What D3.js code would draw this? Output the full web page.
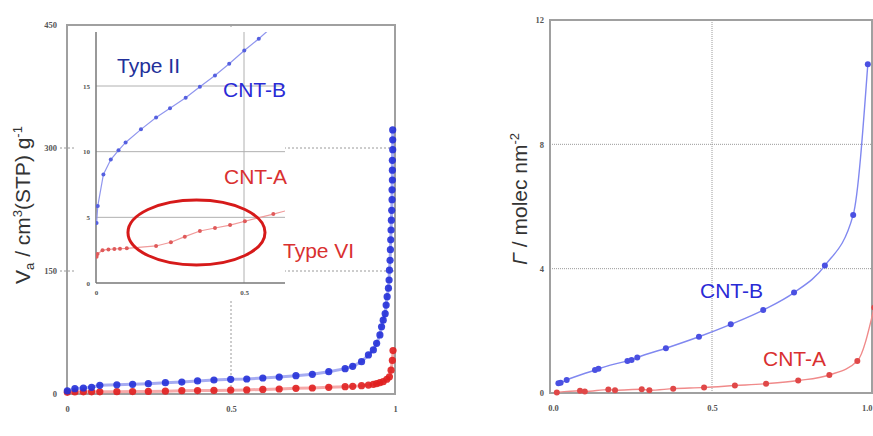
<!DOCTYPE html>
<html>
<head>
<meta charset="utf-8">
<script src="https://cdn.jsdelivr.net/npm/d3@7/dist/d3.min.js"></script>
<style>
  html, body { margin: 0; padding: 0; background: #fff; }
  svg { display: block; }
</style>
</head>
<body>
<svg id="chart" width="873" height="436"></svg>
<script>
// ---- data ----
// left panel, full isotherm (x = P/P0, y = Va)
const mainB = [[0.001,3.7],[0.024,6.5],[0.05,7.3],[0.075,8.2],[0.10,10.6],[0.152,11.3],[0.20,11.8],[0.248,12.6],
  [0.30,13.8],[0.35,14.6],[0.398,15.9],[0.448,17.1],[0.499,17.9],[0.548,18.3],[0.597,19.5],[0.647,20.7],
  [0.698,22.3],[0.748,24],[0.798,27.2],[0.848,30.9],[0.871,33.8],[0.898,39.4],[0.919,47.6],[0.934,53.7],
  [0.944,61.8],[0.954,72],[0.959,82],[0.964,90],[0.970,98],[0.973,108.5],[0.976,118.7],[0.980,129],
  [0.982,139],[0.983,151],[0.985,163],[0.986,176],[0.987,188],[0.988,200],[0.989,212],[0.990,224],
  [0.991,237],[0.991,249],[0.992,261],[0.992,273],[0.992,285],[0.993,298],[0.993,310],[0.993,322]];
const mainA = [[0.001,2.0],[0.024,2.5],[0.05,2.6],[0.075,2.6],[0.10,2.7],[0.152,2.8],[0.20,2.9],[0.248,3.1],
  [0.30,3.5],[0.35,4.0],[0.398,4.2],[0.448,4.4],[0.499,4.7],[0.548,5.0],[0.597,5.6],[0.647,6.1],
  [0.698,6.9],[0.748,7.3],[0.798,8.1],[0.848,8.9],[0.871,9.3],[0.898,10.1],[0.919,10.9],[0.934,11.8],
  [0.944,12.6],[0.954,13.8],[0.964,15],[0.975,18],[0.983,21],[0.988,29],[0.992,41],[0.994,53]];

// inset, low pressure region
const insetB = [[0.002,4.57],[0.006,5.86],[0.025,8.27],[0.05,9.4],[0.076,10.1],[0.10,10.7],[0.152,11.7],
  [0.203,12.6],[0.25,13.3],[0.303,14.1],[0.351,14.95],[0.402,15.8],[0.45,16.7],[0.501,17.7],[0.55,18.6],[0.60,19.6]];
const insetA = [[0.002,2.0],[0.005,2.2],[0.022,2.5],[0.042,2.56],[0.062,2.59],[0.081,2.61],[0.104,2.64],
  [0.203,2.82],[0.253,3.1],[0.30,3.53],[0.351,3.96],[0.402,4.19],[0.453,4.41],[0.503,4.7],[0.599,5.25],[0.65,5.55]];
// highlighted region (x0, x1, y0, y1 in inset units)
const ellipseBox = [0.108, 0.571, 1.37, 6.32];

// right panel (x = P/P0, y = Gamma)
const rightB = [[0.017,0.31],[0.024,0.33],[0.043,0.42],[0.132,0.74],[0.143,0.78],[0.234,1.03],[0.247,1.06],
  [0.265,1.14],[0.355,1.44],[0.459,1.81],[0.559,2.21],[0.661,2.67],[0.758,3.23],[0.855,4.10],[0.944,5.73],[0.99,10.58]];
const rightA = [[0.012,0.02],[0.085,0.07],[0.1,0.05],[0.174,0.11],[0.195,0.09],[0.279,0.12],[0.303,0.09],
  [0.378,0.14],[0.475,0.18],[0.572,0.24],[0.67,0.30],[0.771,0.40],[0.869,0.58],[0.957,1.03],[1.01,2.75]];

// tick labels
const mainYTicks = [0, 150, 300, 450];
const mainXTicks = [0, 0.5, 1];
const insetYTicks = [0, 5, 10, 15];
const insetXTicks = [0, 0.5];
const rightYTicks = [0, 4, 8, 12];
const rightXTicks = [0, 0.5, 1];

const blue = '#2330d8', red = '#e01f1f';
const serif = '"Liberation Serif", "DejaVu Serif", serif';
const sans = '"Liberation Sans", Arial, sans-serif';

const svg = d3.select('#chart');
svg.append('rect').attr('width', 873).attr('height', 436).attr('fill', '#fff');

// ---- scales ----
const xMain = d3.scaleLinear().domain([0, 1]).range([67, 395]);
const yMain = d3.scaleLinear().domain([0, 450]).range([394, 25]);
const xIn = d3.scaleLinear().domain([0, 0.5]).range([96, 244]);
const yIn = d3.scaleLinear().domain([0, 15]).range([283, 86]);
const xR = d3.scaleLinear().domain([0, 1]).range([553, 871]);
const yR = d3.scaleLinear().domain([0, 12]).range([393, 20]);

function styleAxis(g, size, colour) {
  g.select('.domain').remove();
  g.selectAll('text')
    .attr('font-family', serif)
    .attr('font-size', size)
    .attr('font-weight', 'bold')
    .attr('fill', colour);
}

// ================= left panel =================
const left = svg.append('g');

// dashed grid
left.selectAll('.hgrid').data([150, 300]).join('line')
  .attr('x1', 60).attr('x2', xMain(1))
  .attr('y1', d => yMain(d)).attr('y2', d => yMain(d))
  .attr('stroke', '#9a9a9a').attr('stroke-width', 1).attr('stroke-dasharray', '2,2');
left.append('line')
  .attr('x1', xMain(0.5)).attr('x2', xMain(0.5))
  .attr('y1', yMain(450)).attr('y2', yMain(0))
  .attr('stroke', '#9a9a9a').attr('stroke-width', 1).attr('stroke-dasharray', '2,2');

// frame
left.append('rect')
  .attr('x', xMain(0)).attr('y', yMain(450))
  .attr('width', xMain(1) - xMain(0)).attr('height', yMain(0) - yMain(450))
  .attr('fill', 'none').attr('stroke', '#a0a0a0').attr('stroke-width', 2);

left.append('g').attr('transform', `translate(${xMain(0)},0)`)
  .call(d3.axisLeft(yMain).tickValues(mainYTicks).tickSize(0).tickPadding(10).tickFormat(d3.format('d')))
  .call(g => styleAxis(g, 8.5, '#555'));
left.append('g').attr('transform', `translate(0,${yMain(0)})`)
  .call(d3.axisBottom(xMain).tickValues(mainXTicks).tickSize(0).tickPadding(12).tickFormat(d => d === 0.5 ? '0.5' : d3.format('d')(d)))
  .call(g => styleAxis(g, 8.5, '#555'));

// main series
const lineMain = d3.line().x(d => xMain(d[0])).y(d => yMain(d[1]));
[[mainA, red, '#f07070'], [mainB, blue, '#6a74ea']].forEach(([data, c, lc]) => {
  left.append('path').datum(data).attr('d', lineMain)
    .attr('fill', 'none').attr('stroke', lc).attr('stroke-width', 3).attr('opacity', 0.6);
  left.append('g').selectAll('circle').data(data).join('circle')
    .attr('cx', d => xMain(d[0])).attr('cy', d => yMain(d[1])).attr('r', 3.6)
    .attr('fill', c).attr('opacity', 0.9);
});

// ---- inset ----
const inset = svg.append('g');
inset.append('rect').attr('x', 76).attr('y', 28).attr('width', 285 - 76).attr('height', 300 - 28).attr('fill', '#fff');

inset.append('clipPath').attr('id', 'inclip').append('rect')
  .attr('x', xIn(0)).attr('y', 32).attr('width', 285 - xIn(0)).attr('height', yIn(0) - 32);

inset.selectAll('.ig').data([5, 10, 15]).join('line')
  .attr('x1', xIn(0)).attr('x2', 285)
  .attr('y1', d => yIn(d)).attr('y2', d => yIn(d))
  .attr('stroke', '#b0b0b0').attr('stroke-width', 1);
inset.append('line')
  .attr('x1', xIn(0.5)).attr('x2', xIn(0.5)).attr('y1', 32).attr('y2', yIn(0))
  .attr('stroke', '#b0b0b0').attr('stroke-width', 1);
inset.append('line')
  .attr('x1', xIn(0)).attr('x2', xIn(0)).attr('y1', 32).attr('y2', yIn(0))
  .attr('stroke', '#777').attr('stroke-width', 1.5);
inset.append('line')
  .attr('x1', xIn(0)).attr('x2', 285).attr('y1', yIn(0)).attr('y2', yIn(0))
  .attr('stroke', '#777').attr('stroke-width', 1.5);

inset.append('g').attr('transform', `translate(${xIn(0)},0)`)
  .call(d3.axisLeft(yIn).tickValues(insetYTicks).tickSize(0).tickPadding(6))
  .call(g => styleAxis(g, 7, '#555'));
inset.append('g').attr('transform', `translate(0,${yIn(0)})`)
  .call(d3.axisBottom(xIn).tickValues(insetXTicks).tickSize(0).tickPadding(7).tickFormat(d => d === 0 ? '0' : '0.5'))
  .call(g => styleAxis(g, 7, '#555'));

const lineIn = d3.line().x(d => xIn(d[0])).y(d => yIn(d[1]));
const inData = inset.append('g').attr('clip-path', 'url(#inclip)');
[[insetB, '#5560e0', '#9096ee'], [insetA, '#e05a5a', '#f09a9a']].forEach(([data, c, lc]) => {
  inData.append('path').datum(data).attr('d', lineIn)
    .attr('fill', 'none').attr('stroke', lc).attr('stroke-width', 1.2);
  inData.append('g').selectAll('circle').data(data).join('circle')
    .attr('cx', d => xIn(d[0])).attr('cy', d => yIn(d[1])).attr('r', 2)
    .attr('fill', c);
});

inset.append('ellipse')
  .attr('cx', (xIn(ellipseBox[0]) + xIn(ellipseBox[1])) / 2)
  .attr('cy', (yIn(ellipseBox[2]) + yIn(ellipseBox[3])) / 2)
  .attr('rx', (xIn(ellipseBox[1]) - xIn(ellipseBox[0])) / 2)
  .attr('ry', (yIn(ellipseBox[2]) - yIn(ellipseBox[3])) / 2)
  .attr('fill', 'none').attr('stroke', '#d61a1a').attr('stroke-width', 3);

const leftLabels = [
  { t: 'Type II', x: 117, y: 73, c: '#22309a' },
  { t: 'CNT-B', x: 223, y: 97, c: '#2a2ad6' },
  { t: 'CNT-A', x: 224, y: 184, c: '#d93030' },
  { t: 'Type VI', x: 283, y: 258, c: '#d93030' }
];
svg.append('g').selectAll('text').data(leftLabels).join('text')
  .attr('x', d => d.x).attr('y', d => d.y).text(d => d.t)
  .attr('font-family', sans).attr('font-size', 21).attr('fill', d => d.c);

// left y title
const ly = svg.append('text')
  .attr('transform', 'translate(30,205) rotate(-90)')
  .attr('text-anchor', 'middle')
  .attr('font-family', sans).attr('font-size', 21).attr('fill', '#333');
ly.append('tspan').text('V');
ly.append('tspan').attr('font-size', 13).attr('dy', 4).text('a');
ly.append('tspan').attr('dy', -4).text(' / cm');
ly.append('tspan').attr('font-size', 13).attr('dy', -8).text('3');
ly.append('tspan').attr('dy', 8).text('(STP) g');
ly.append('tspan').attr('font-size', 13).attr('dy', -8).text('-1');

// ================= right panel =================
const right = svg.append('g');
right.selectAll('.rg').data([4, 8]).join('line')
  .attr('x1', 550).attr('x2', 873)
  .attr('y1', d => yR(d)).attr('y2', d => yR(d))
  .attr('stroke', '#9a9a9a').attr('stroke-width', 1).attr('stroke-dasharray', '1,1');
right.append('line')
  .attr('x1', xR(0.5)).attr('x2', xR(0.5)).attr('y1', yR(12)).attr('y2', yR(0))
  .attr('stroke', '#9a9a9a').attr('stroke-width', 1).attr('stroke-dasharray', '1,1');
right.append('rect')
  .attr('x', 550).attr('y', yR(12)).attr('width', 872 - 550).attr('height', yR(0) - yR(12))
  .attr('fill', 'none').attr('stroke', '#a0a0a0').attr('stroke-width', 2);

right.append('g').attr('transform', 'translate(550,0)')
  .call(d3.axisLeft(yR).tickValues(rightYTicks).tickSize(0).tickPadding(6))
  .call(g => styleAxis(g, 8.5, '#555'));
right.append('g').attr('transform', `translate(0,${yR(0)})`)
  .call(d3.axisBottom(xR).tickValues(rightXTicks).tickSize(0).tickPadding(12).tickFormat(d3.format('.1f')))
  .call(g => styleAxis(g, 8.5, '#555'))
  // last label sits on the picture edge: pin it inside
  .call(g => g.selectAll('.tick').filter(d => d === 1).select('text').attr('text-anchor', 'end').attr('x', 872 - xR(1)));

const lineR = d3.line().x(d => xR(d[0])).y(d => yR(d[1])).curve(d3.curveMonotoneX);
[[rightB, '#4a50e2', '#8088f0'], [rightA, '#e04848', '#f08a8a']].forEach(([data, c, lc]) => {
  right.append('path').datum(data).attr('d', lineR)
    .attr('fill', 'none').attr('stroke', lc).attr('stroke-width', 1.4);
  right.append('g').selectAll('circle').data(data).join('circle')
    .attr('cx', d => xR(d[0])).attr('cy', d => yR(d[1])).attr('r', 3)
    .attr('fill', c);
});

const rightLabels = [
  { t: 'CNT-B', x: 700, y: 298, c: '#2a2ad6' },
  { t: 'CNT-A', x: 763, y: 366, c: '#d93030' }
];
svg.append('g').selectAll('text').data(rightLabels).join('text')
  .attr('x', d => d.x).attr('y', d => d.y).text(d => d.t)
  .attr('font-family', sans).attr('font-size', 21).attr('fill', d => d.c);

const ry = svg.append('text')
  .attr('transform', 'translate(527,199) rotate(-90)')
  .attr('text-anchor', 'middle')
  .attr('font-family', sans).attr('font-size', 21).attr('fill', '#333');
ry.append('tspan').attr('font-style', 'italic').text('Γ');
ry.append('tspan').text(' / molec nm');
ry.append('tspan').attr('font-size', 13).attr('dy', -8).text('-2');
</script>
</body>
</html>
